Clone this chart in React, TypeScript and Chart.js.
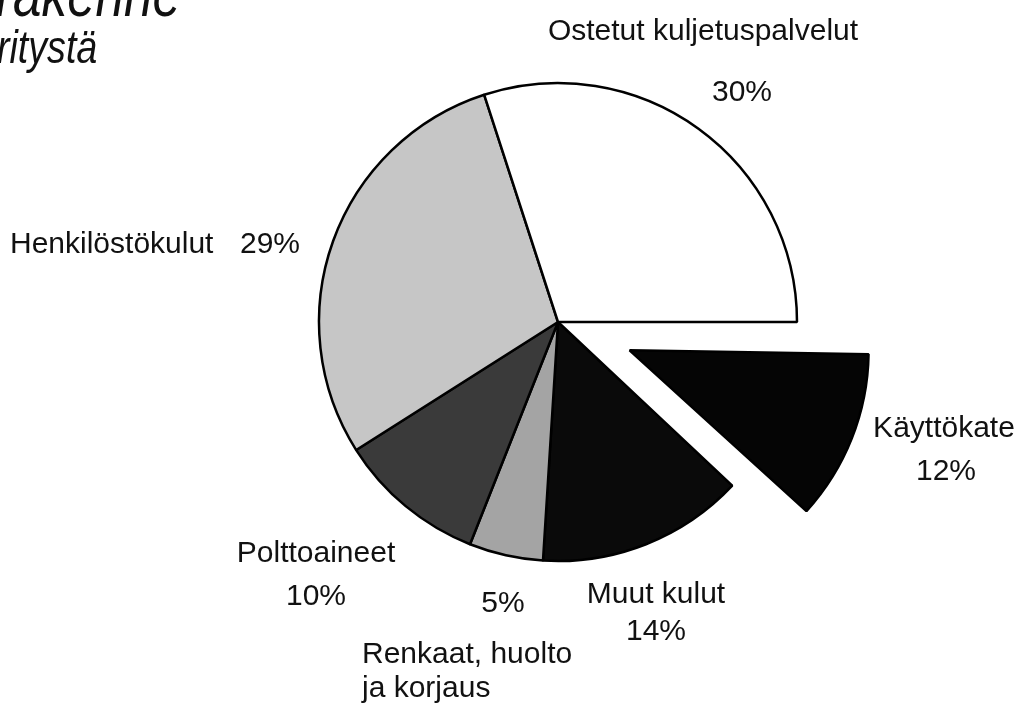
import React, { useEffect, useRef } from "react";
import { Chart, registerables } from "chart.js";

Chart.register(...registerables);

// Slices listed clockwise starting at 3 o'clock
const categories = [
  "Käyttökate",
  "Muut kulut",
  "Renkaat, huolto ja korjaus",
  "Polttoaineet",
  "Henkilöstökulut",
  "Ostetut kuljetuspalvelut",
];
const shares = [12, 14, 5, 10, 29, 30];
const sliceColors = ["#050505", "#0a0a0a", "#a4a4a4", "#3a3a3a", "#c6c6c6", "#ffffff"];
// Chart.js draws offset/4 pixels of explosion
const explodeOffsets = [308, 0, 0, 0, 0, 0];

const titleLines = ["rakenne", "ritystä"];

const labelTexts: string[][] = [
  ["Käyttökate", "12%"],
  ["Muut kulut", "14%"],
  ["Renkaat, huolto", "ja korjaus"],
  ["Polttoaineet", "10%"],
  ["Henkilöstökulut"],
  ["Ostetut kuljetuspalvelut"],
];
const extraTexts = ["5%", "29%", "30%"];

export default function App() {
  const ref = useRef<HTMLCanvasElement | null>(null);

  useEffect(() => {
    const canvas = ref.current;
    if (!canvas) return;

    // keep exploded slice at the same radius as the rest of the pie
    const radiusFix = {
      id: "radiusFix",
      afterDatasetsUpdate(chart: any) {
        const meta = chart.getDatasetMeta(0);
        meta.data.forEach((arc: any, i: number) => {
          const off = (explodeOffsets[i] || 0) / 4;
          if (off) {
            const fix = 1 - Math.sin(Math.min(Math.PI, arc.circumference || 0));
            arc.outerRadius -= off * fix;
          }
        });
      },
    };

    const labelPlugin = {
      id: "labels",
      afterDraw(chart: any) {
        const ctx = chart.ctx as CanvasRenderingContext2D;
        ctx.save();
        ctx.fillStyle = "#111";
        ctx.textAlign = "left";
        ctx.textBaseline = "alphabetic";
        ctx.save();
        ctx.font = "italic 64px 'Liberation Sans', Arial, sans-serif";
        ctx.scale(0.8, 1);
        ctx.fillText(titleLines[0], -4 / 0.8, 16);
        ctx.restore();
        ctx.save();
        ctx.font = "italic 47px 'Liberation Sans', Arial, sans-serif";
        ctx.scale(0.8, 1);
        ctx.fillText(titleLines[1], -3 / 0.8, 63);
        ctx.restore();

        ctx.font = "30px 'Liberation Sans', Arial, sans-serif";
        const place = (t: string, x: number, y: number, align: CanvasTextAlign) => {
          ctx.textAlign = align;
          ctx.fillText(t, x, y);
        };
        place(labelTexts[0][0], 944, 437, "center");
        place(labelTexts[0][1], 946, 480, "center");
        place(labelTexts[1][0], 656, 603, "center");
        place(labelTexts[1][1], 656, 640, "center");
        place(labelTexts[2][0], 362, 663, "left");
        place(labelTexts[2][1], 362, 697, "left");
        place(extraTexts[0], 503, 612, "center");
        place(labelTexts[3][0], 316, 562, "center");
        place(labelTexts[3][1], 316, 605, "center");
        place(labelTexts[4][0], 10, 253, "left");
        place(extraTexts[1], 240, 253, "left");
        place(labelTexts[5][0], 703, 40, "center");
        place(extraTexts[2], 742, 101, "center");
        ctx.restore();
      },
    };

    const chart = new Chart(canvas, {
      type: "pie",
      data: {
        labels: categories,
        datasets: [
          {
            data: shares,
            backgroundColor: sliceColors,
            borderColor: "#000",
            borderWidth: 2.5,
            offset: explodeOffsets,
            radius: 239,
          } as any,
        ],
      },
      options: {
        animation: false,
        responsive: false,
        rotation: 90,
        events: [],
        layout: { padding: { left: 98, right: 0, top: 0, bottom: 63 } },
        plugins: {
          legend: { display: false },
          tooltip: { enabled: false },
        },
      } as any,
      plugins: [radiusFix, labelPlugin],
    });

    return () => chart.destroy();
  }, []);

  return (
    <div style={{ position: "fixed", left: 0, top: 0, width: 1018, height: 707, background: "#fff" }}>
      <canvas ref={ref} width={1018} height={707} style={{ display: "block", width: 1018, height: 707 }} />
    </div>
  );
}
